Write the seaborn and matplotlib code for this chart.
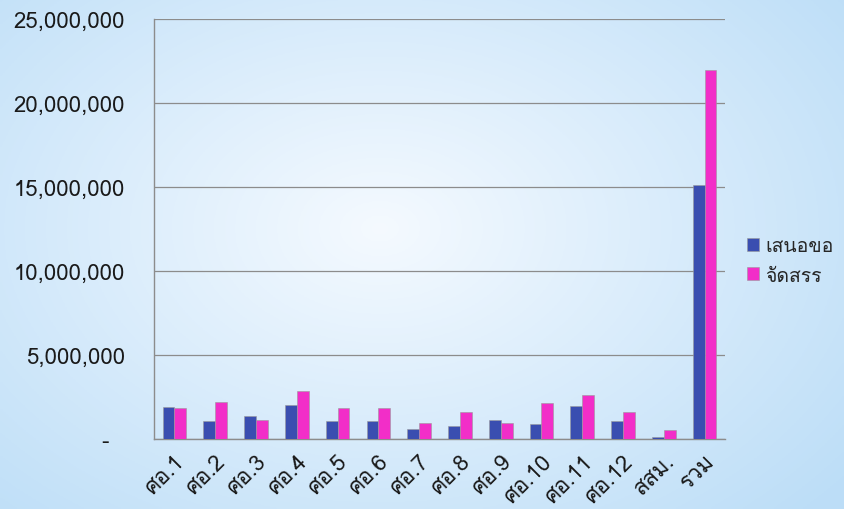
import numpy as np
import pandas as pd
import matplotlib
matplotlib.use("Agg")
import matplotlib.pyplot as plt
from matplotlib import font_manager
from matplotlib.ticker import FuncFormatter
import seaborn as sns

# ---------------------------
# Data
# ---------------------------
regions = ["ศอ.1", "ศอ.2", "ศอ.3", "ศอ.4", "ศอ.5", "ศอ.6", "ศอ.7",
           "ศอ.8", "ศอ.9", "ศอ.10", "ศอ.11", "ศอ.12", "สสม.", "รวม"]
requested = [1890000, 1090000, 1370000, 2040000, 1050000, 1050000, 610000,
             770000, 1150000, 890000, 1950000, 1050000, 140000, 15140000]
allocated = [1850000, 2180000, 1150000, 2860000, 1850000, 1850000, 930000,
             1630000, 930000, 2160000, 2640000, 1630000, 520000, 21980000]
series_names = ["เสนอขอ", "จัดสรร"]
colors = ["#3a4eb0", "#f22ec8"]

df = pd.DataFrame({
    "region": regions * 2,
    "value": requested + allocated,
    "series": [series_names[0]] * len(regions) + [series_names[1]] * len(regions),
})

# ---------------------------
# Font with Thai glyphs, if any installed
# ---------------------------
thai_font = None
for f in font_manager.fontManager.ttflist:
    try:
        cmap = matplotlib.ft2font.FT2Font(f.fname).get_charmap()
    except Exception:
        continue
    if ord("ส") in cmap:
        thai_font = f.name
        break

sns.set_style("white")
fams = ([thai_font] if thai_font else []) + ["DejaVu Sans"]
plt.rcParams["font.family"] = fams

fig = plt.figure(figsize=(8.44, 5.1), dpi=100)

# background gradient
bg = fig.add_axes([0, 0, 1, 1], zorder=-10)
yy, xx = np.mgrid[0:1:200j, 0:1:300j]
r = np.sqrt(((xx - 0.45) / 0.7) ** 2 + ((yy - 0.45) / 0.8) ** 2)
r = np.clip(r, 0, 1)
c0 = np.array([0.96, 0.98, 1.0])
c1 = np.array([0.74, 0.87, 0.97])
img = c0[None, None, :] * (1 - r[..., None]) + c1[None, None, :] * r[..., None]
bg.imshow(img, aspect="auto", extent=[0, 1, 0, 1])
bg.axis("off")

ax = fig.add_axes([0.1825, 0.1373, 0.8590 - 0.1825, 0.9608 - 0.1373])
ax.patch.set_alpha(0)

sns.barplot(data=df, x="region", y="value", hue="series", palette=colors,
            saturation=1, width=0.58, gap=0, ax=ax, edgecolor="#9a9a9a",
            linewidth=0.4, legend=True, zorder=3)

ax.set_ylim(0, 25000000)
ax.set_yticks(np.arange(0, 25000001, 5000000))
ax.yaxis.set_major_formatter(FuncFormatter(lambda v, p: "-  " if v == 0 else f"{v:,.0f}"))
ax.grid(axis="y", color="#8c8c8c", linewidth=0.9, zorder=0)
ax.set_axisbelow(True)
ax.set_xlabel("")
ax.set_ylabel("")
ax.tick_params(axis="y", labelsize=16, length=0, pad=21, colors="#1a1a1a")
ax.tick_params(axis="x", labelsize=16, length=0, pad=8, colors="#1a1a1a")
for lab in ax.get_xticklabels():
    lab.set_rotation(45)
    lab.set_ha("right")
    lab.set_rotation_mode("anchor")

for s in ["top", "right"]:
    ax.spines[s].set_visible(False)
for s in ["left", "bottom"]:
    ax.spines[s].set_color("#8c8c8c")
    ax.spines[s].set_linewidth(1)

leg = ax.legend(loc="center left", bbox_to_anchor=(1.038, 0.424), frameon=False,
                fontsize=14, handlelength=0.65, handleheight=0.65, borderpad=0,
                handletextpad=0.3, labelspacing=0.6, borderaxespad=0)

fig.savefig("out.png", dpi=100)
